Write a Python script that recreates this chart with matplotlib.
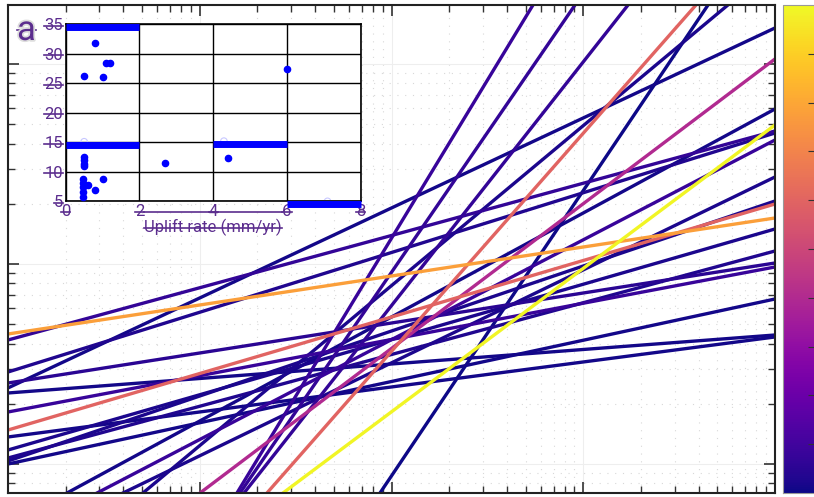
# Power-law fits coloured by uplift, with inset of uplift rate vs age
import numpy as np
import matplotlib
matplotlib.use("Agg")
import matplotlib.pyplot as plt
import matplotlib.patheffects as pe
from matplotlib.lines import Line2D
from matplotlib.colors import Normalize

plt.rcParams['font.family'] = ['Roboto', 'DejaVu Sans']

# ---- main panel: y = k * x**n for each fit
prefactor = [2.40, 0.135, 0.0241, 1.479, 0.0671, 0.001224, 0.196, 4.467,
             0.00928, 0.01463, 0.02266, 0.4955, 0.42, 0.377, 4.169, 2.884,
             2.541, 2.265, 1.82, 1.365, 1.175, 1.0715, 1.035, 1.0]
exponent = [0.45, 0.7237, 1.0906, 0.2825, 0.7171, 1.4264, 0.7998, 0.145,
            1.5806, 1.3966, 1.2184, 0.52, 0.4992, 0.4647, 0.26125, 0.29875,
            0.15, 0.0725, 0.18125, 0.125, 0.27625, 0.25875, 0.325, 0.20625]
colour_val = [0.01, 0.40, 0.6, 0.6, 0.99, 0.0, 0.02, 0.78,
              0.08, 0.07, 0.07, 0.01, 0.08, 0.02, 0.07, 0.03,
              0.05, 0.01, 0.08, 0.01, 0.02, 0.03, 0.02, 0.01]

# ---- inset data
uplift = [0.79, 0.5, 1.0, 1.09, 1.2, 5.99, 0.5, 0.5, 0.5, 0.5,
          0.48, 0.48, 0.48, 0.61, 0.48, 0.48, 0.79, 1.0, 2.69, 4.39]
age = [31.9, 26.2, 26.0, 28.5, 28.5, 27.4, 12.5, 12.0, 11.4, 11.0,
       8.7, 8.05, 7.5, 7.8, 6.6, 5.8, 7.0, 8.7, 11.5, 12.4]
faint_uplift = [0.5, 0.5, 4.29, 7.1]
faint_age = [34.5, 15.1, 15.2, 5.0]
bin_left = [0, 0, 4, 6]
bin_right = [2, 2, 6, 8]
bin_value = [34.6, 14.5, 14.7, 4.6]

purple = '#5b2d8e'

fig = plt.figure(figsize=(8.14, 4.97), dpi=100)
ax = fig.add_axes([8/814, 4/497, 767/814, 488/497])

cmap = plt.get_cmap('plasma')
norm = Normalize(0, 1)
x = np.logspace(0, 4, 200)
order = np.argsort(colour_val, kind='stable')
for i in order:
    ax.plot(x, prefactor[i] * x ** exponent[i], color=cmap(norm(colour_val[i])),
            lw=2.4, solid_capstyle='butt')

ax.set_xscale('log')
ax.set_yscale('log')
ax.set_xlim(1, 1e4)
ax.set_ylim(10 ** -0.145, 10 ** 2.295)
ax.tick_params(which='both', direction='in', top=True, right=True,
               labelbottom=False, labelleft=False, color='#333333')
ax.tick_params(which='major', length=8, width=1.2)
ax.tick_params(which='minor', length=5, width=1)
ax.grid(which='major', color='#eeeeee', lw=0.8)
ax.grid(which='minor', color='#d8d8d8', lw=0.8, ls=(0, (1, 6)))
for s in ax.spines.values():
    s.set_linewidth(1.5)
    s.set_color('#222222')

# colorbar, cut by the figure edge
cax = fig.add_axes([783/814, 4/497, 33/814, 488/497])
sm = plt.cm.ScalarMappable(cmap=cmap, norm=norm)
cb = fig.colorbar(sm, cax=cax, ticks=np.arange(0.1, 1.0, 0.1))
cb.outline.set_edgecolor('#999999')
cax.tick_params(direction='in', length=6, color='#333333', labelright=False)

# panel letter
ta = fig.text(17/814, 1 - 40/497, 'a', fontsize=25, color=purple,
              va='baseline', ha='left',
              path_effects=[pe.withStroke(linewidth=2.5, foreground='#dddddd')])

# inset
ins = fig.add_axes([65.7/814, 1 - 201.3/497, 295/814, 177/497])
ins.set_facecolor('white')
ins.set_xlim(0, 8)
ins.set_ylim(5, 35)
ins.set_xticks([0, 2, 4, 6, 8])
ins.set_yticks([5, 10, 15, 20, 25, 30, 35])
ins.grid(color='black', lw=1)
ins.set_axisbelow(True)
ins.tick_params(length=0, labelcolor=purple, labelsize=12, pad=2)
for s in ins.spines.values():
    s.set_linewidth(1.2)
ins.hlines(bin_value, bin_left, bin_right, color='#0000ff', lw=5, clip_on=False, zorder=3)
ins.scatter(faint_uplift, faint_age, s=22, facecolors='none', edgecolors='#c8c8ff',
            lw=0.8, zorder=2, clip_on=False)
ins.scatter(uplift, age, s=20, color='#0000ff', zorder=4)
ins.set_xlabel('Uplift rate (mm/yr)', color=purple, fontsize=12, labelpad=0)

# strike-through on the inset text
fig.canvas.draw()
r = fig.canvas.get_renderer()
inv = fig.transFigure.inverted()


def strike(x0, x1, y):
    (a0, b0), (a1, b1) = inv.transform([(x0, y), (x1, y)])
    fig.add_artist(Line2D([a0, a1], [b0, b1], color=purple, lw=1.2))


for t in ins.get_yticklabels() + ins.get_xticklabels() + [ins.xaxis.label, ta]:
    bb = t.get_window_extent(r)
    strike(bb.x0, bb.x1, bb.y0 + 0.5 * bb.height)
xl = ins.get_xticklabels()
b2 = xl[1].get_window_extent(r)
b6 = xl[3].get_window_extent(r)
strike(b2.x1, b6.x0, b2.y0 + 0.5 * b2.height)

fig.savefig('out.png', dpi=100)
